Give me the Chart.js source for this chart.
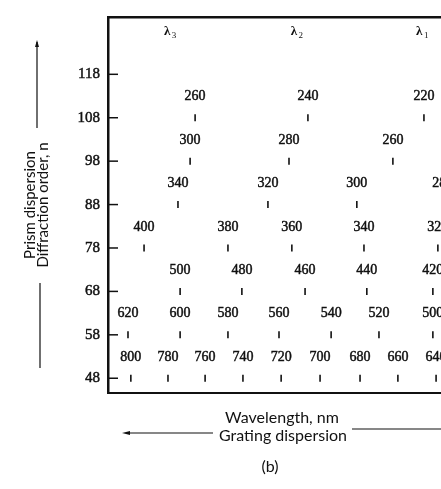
<!DOCTYPE html>
<html>
<head>
<meta charset="utf-8">
<script src="https://cdn.jsdelivr.net/npm/chart.js@4/dist/chart.umd.min.js"></script>
<style>
  html, body { margin: 0; padding: 0; background: #fff; overflow: hidden; }
  #wrap { width: 441px; height: 489px; overflow: hidden; }
</style>
</head>
<body>
<div id="wrap"><canvas id="echelle" width="480" height="489"></canvas></div>
<script>
// diffraction orders shown on the y axis
const orderTicks = [48, 58, 68, 78, 88, 98, 108, 118];

// wavelength (nm) marks in each order, and their position along the grating direction (0-100)
const wl48 = [800, 780, 760, 740, 720, 700, 680, 660, 640];
const pos48 = [6.4, 16.8, 27.2, 37.8, 48.5, 59.4, 70.6, 81.2, 91.9];
const wl58 = [620, 600, 580, 560, 540, 520, 500];
const pos58 = [5.6, 20.2, 33.6, 47.9, 62.5, 75.9, 91.0];
const wl68 = [500, 480, 460, 440, 420];
const pos68 = [20.2, 37.5, 55.2, 72.5, 91.0];
const wl78 = [400, 380, 360, 340, 320];
const pos78 = [10.1, 33.6, 51.5, 71.7, 92.4];
const wl88 = [340, 320, 300, 280];
const pos88 = [19.6, 44.8, 69.7, 93.8];
const wl98 = [300, 280, 260];
const pos98 = [23.0, 50.7, 79.8];
const wl108 = [260, 240, 220];
const pos108 = [24.4, 56.0, 88.5];

// column headers on top
const lambdaNames = ['3', '2', '1'];
const lambdaPos = [17.4, 52.9, 88.0];

const rows = [
    [48, wl48, pos48], [58, wl58, pos58], [68, wl68, pos68], [78, wl78, pos78],
    [88, wl88, pos88], [98, wl98, pos98], [108, wl108, pos108]
];

const datasets = rows.map(([n, wl, pos]) => ({
    label: 'n = ' + n,
    data: pos.map((x, i) => ({ x: x, y: n, wl: wl[i] })),
    pointStyle: 'line',
    rotation: 90,
    radius: 3.5,
    borderWidth: 1.6,
    borderColor: '#111',
    backgroundColor: '#111'
}));

const ink = '#111';

// print-like text: fill plus a thin stroke so it looks as heavy as the scan
function inkText(ctx, txt, x, y) {
    ctx.fillText(txt, x, y);
    ctx.lineWidth = 0.45;
    ctx.strokeText(txt, x, y);
}

// text labels, inward ticks, lambda headers and the arrow captions
const decorations = {
    id: 'decorations',
    afterDraw(chart) {
        const ctx = chart.ctx;
        const area = chart.chartArea;
        const xs = chart.scales.x;
        const ys = chart.scales.y;
        ctx.save();
        ctx.strokeStyle = ink;
        ctx.fillStyle = ink;

        // ticks pointing into the plot
        ctx.lineWidth = 1.5;
        orderTicks.forEach(t => {
            const py = ys.getPixelForValue(t);
            ctx.beginPath();
            ctx.moveTo(area.left, py);
            ctx.lineTo(area.left + 10, py);
            ctx.stroke();
        });

        // wavelength labels above each mark
        ctx.font = '14px "Liberation Serif"';
        ctx.textAlign = 'center';
        ctx.textBaseline = 'middle';
        chart.data.datasets.forEach((ds, di) => {
            const meta = chart.getDatasetMeta(di);
            meta.data.forEach((pt, i) => {
                inkText(ctx, String(ds.data[i].wl), pt.x, pt.y - 21);
            });
        });

        // lambda headers
        lambdaPos.forEach((p, i) => {
            const px = xs.getPixelForValue(p);
            const py = area.top + 15;
            ctx.font = 'bold 13px "Liberation Serif"';
            ctx.textAlign = 'center';
            ctx.fillText('\u03BB', px - 3, py);
            ctx.font = '9px "Liberation Serif"';
            ctx.fillText(lambdaNames[i], px + 4, py + 4);
        });

        // arrow lines beside the y title
        ctx.lineWidth = 1.2;
        ctx.beginPath();
        ctx.moveTo(37, 128);
        ctx.lineTo(37, 42);
        ctx.moveTo(40, 283);
        ctx.lineTo(40, 368);
        ctx.stroke();
        ctx.beginPath();
        ctx.moveTo(37, 40);
        ctx.lineTo(35, 47);
        ctx.lineTo(39, 47);
        ctx.closePath();
        ctx.fill();

        // bottom captions
        ctx.font = '16px Lato';
        ctx.textAlign = 'center';
        ctx.fillText('Wavelength, nm', 282, 418);
        ctx.fillText('Grating dispersion', 283, 436);
        ctx.fillText('(b)', 270, 467);
        ctx.lineWidth = 1.2;
        ctx.beginPath();
        ctx.moveTo(128, 433);
        ctx.lineTo(213, 433);
        ctx.moveTo(352, 429);
        ctx.lineTo(441, 429);
        ctx.stroke();
        ctx.beginPath();
        ctx.moveTo(122, 433);
        ctx.lineTo(130, 431);
        ctx.lineTo(130, 435);
        ctx.closePath();
        ctx.fill();

        ctx.restore();
    }
};

const ctx = document.getElementById('echelle').getContext('2d');
new Chart(ctx, {
    type: 'scatter',
    data: { datasets: datasets },
    options: {
        responsive: false,
        animation: false,
        events: [],
        layout: { padding: { left: 0, top: 12, right: 15, bottom: 96 } },
        plugins: {
            legend: { display: false },
            tooltip: { enabled: false }
        },
        scales: {
            x: {
                type: 'linear',
                position: 'top',
                min: 0,
                max: 100,
                ticks: { display: false },
                grid: { display: false, drawTicks: false },
                border: { display: true, color: ink, width: 2.5 }
            },
            xb: {
                type: 'linear',
                position: 'bottom',
                min: 0,
                max: 100,
                ticks: { display: false },
                grid: { display: false, drawTicks: false },
                border: { display: true, color: ink, width: 2 }
            },
            y: {
                type: 'linear',
                min: 44.6,
                max: 131.2,
                afterFit: scale => { scale.width = 108; },
                afterBuildTicks: scale => {
                    scale.ticks = orderTicks.map(v => ({ value: v }));
                },
                ticks: {
                    color: ink,
                    padding: 8,
                    textStrokeColor: ink,
                    textStrokeWidth: 0.45,
                    font: { family: '"Liberation Serif"', size: 15 }
                },
                grid: { display: false, drawTicks: false },
                border: { display: true, color: ink, width: 2.5 },
                title: {
                    display: true,
                    text: ['Prism dispersion', 'Diffraction order, n'],
                    color: ink,
                    font: { family: 'Lato', size: 15, lineHeight: 0.85 },
                    padding: { top: 23.6, bottom: 0 }
                }
            }
        }
    },
    plugins: [decorations]
});
</script>
</body>
</html>
